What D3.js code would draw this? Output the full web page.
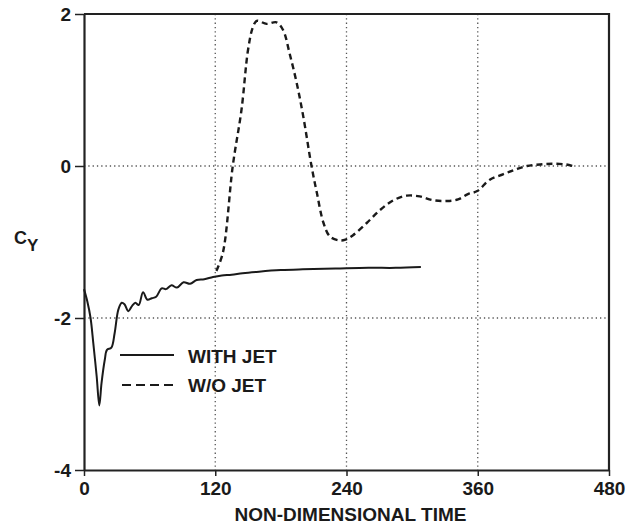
<!DOCTYPE html>
<html>
  <head>
    <meta charset="utf-8">
    <title>Cy vs non-dimensional time</title>
    <script src="https://d3js.org/d3.v7.min.js"></script>
    <style>
body { margin: 0; background: #fff; }
text { font-family: "Liberation Sans", Arial, sans-serif; font-weight: bold; fill: #1a1a1a; }
    </style>
  </head>
  <body>
<script>
// tick values
var xTicks = [0, 120, 240, 360, 480],
    yTicks = [2, 0, -2, -4],
    xGrid = [120, 240, 360],
    yGrid = [0, -2];

// WITH JET (solid)
var jetT  = [0, 3, 6, 8.5, 11.6, 14, 16, 19, 21, 25, 28, 31.4, 34.5, 37, 40.5, 44, 47, 50, 54, 58, 62, 66, 71, 75, 80, 85, 91, 97, 103, 110, 118, 126, 135, 145, 160, 180, 200, 230, 260, 285, 308];
var jetCy = [-1.62, -1.78, -2.0, -2.33, -2.77, -3.15, -2.86, -2.55, -2.42, -2.39, -2.2, -1.89, -1.8, -1.82, -1.91, -1.84, -1.8, -1.83, -1.66, -1.76, -1.74, -1.72, -1.61, -1.62, -1.57, -1.6, -1.53, -1.55, -1.5, -1.49, -1.46, -1.44, -1.43, -1.41, -1.39, -1.37, -1.36, -1.35, -1.34, -1.34, -1.33];

// W/O JET (dashed)
var noJetT  = [121, 127, 136, 144, 150, 154.5, 158, 167, 176, 182, 188, 194.5, 200.5, 208, 213, 219, 225, 234, 239, 246, 258.5, 270.6, 283, 295, 307, 319, 331.6, 342, 351, 359.5, 371, 383, 394, 405, 417, 429, 441, 447];
var noJetCy = [-1.38, -1.14, 0, 0.74, 1.53, 1.83, 1.91, 1.87, 1.89, 1.79, 1.48, 1.09, 0.65, 0, -0.36, -0.75, -0.93, -0.98, -0.97, -0.91, -0.75, -0.58, -0.45, -0.39, -0.4, -0.45, -0.46, -0.44, -0.37, -0.33, -0.18, -0.11, -0.05, 0, 0.02, 0.03, 0.02, 0];

var width = 640,
    height = 529,
    plotL = 84, plotR = 609, plotT = 14, plotB = 470;

var x = d3.scaleLinear().domain([0, 480]).range([plotL, plotR]),
    y = d3.scaleLinear().domain([-4, 2]).range([plotB, plotT]);

var svg = d3.select("body").append("svg")
  .attr("width", width)
  .attr("height", height);

// dotted grid
svg.append("g").selectAll("line").data(xGrid).enter().append("line")
  .attr("x1", function(d) { return x(d); }).attr("x2", function(d) { return x(d); })
  .attr("y1", plotT).attr("y2", plotB)
  .attr("stroke", "#555").attr("stroke-width", 1.3).attr("stroke-dasharray", "1.3,3");
svg.append("g").selectAll("line").data(yGrid).enter().append("line")
  .attr("y1", function(d) { return y(d); }).attr("y2", function(d) { return y(d); })
  .attr("x1", plotL).attr("x2", plotR)
  .attr("stroke", "#555").attr("stroke-width", 1.3).attr("stroke-dasharray", "1.3,3");

// frame top / right
svg.append("path")
  .attr("d", "M" + plotL + "," + plotT + "H" + plotR + "V" + plotB)
  .attr("fill", "none").attr("stroke", "#222").attr("stroke-width", 2.2);

var xAxis = svg.append("g")
  .attr("transform", "translate(0," + plotB + ")")
  .call(d3.axisBottom(x).tickValues(xTicks).tickSize(6).tickSizeOuter(0).tickPadding(6));
var yAxis = svg.append("g")
  .attr("transform", "translate(" + plotL + ",0)")
  .call(d3.axisLeft(y).tickValues(yTicks).tickSize(9).tickSizeOuter(0).tickPadding(4)
    .tickFormat(function(d) { return String(d); }));

[xAxis, yAxis].forEach(function(a) {
  a.select(".domain").attr("stroke", "#222").attr("stroke-width", 2.2);
  a.selectAll(".tick line").attr("stroke", "#222").attr("stroke-width", 1.5);
  a.selectAll(".tick text").style("font-size", "19px").attr("fill", "#1a1a1a");
});

var line = d3.line()
  .x(function(d) { return x(d[0]); })
  .y(function(d) { return y(d[1]); })
  .curve(d3.curveCatmullRom);

svg.append("path")
  .datum(d3.zip(jetT, jetCy))
  .attr("d", line)
  .attr("fill", "none").attr("stroke", "#1a1a1a").attr("stroke-width", 2);

svg.append("path")
  .datum(d3.zip(noJetT, noJetCy))
  .attr("d", line)
  .attr("fill", "none").attr("stroke", "#1a1a1a").attr("stroke-width", 2.4)
  .attr("stroke-dasharray", "6,4");

// legend
svg.append("line").attr("x1", 120).attr("x2", 174).attr("y1", 355).attr("y2", 355)
  .attr("stroke", "#1a1a1a").attr("stroke-width", 2.2);
svg.append("line").attr("x1", 122).attr("x2", 174).attr("y1", 385).attr("y2", 385)
  .attr("stroke", "#1a1a1a").attr("stroke-width", 2.2).attr("stroke-dasharray", "9,5");
svg.append("text").attr("x", 188).attr("y", 363).style("font-size", "19px").text("WITH JET");
svg.append("text").attr("x", 188).attr("y", 392).style("font-size", "19px").text("W/O JET");

// axis titles
svg.append("text").attr("x", (plotL + plotR) / 2 + 4).attr("y", 521)
  .attr("text-anchor", "middle").style("font-size", "19px").text("NON-DIMENSIONAL TIME");
var cy = svg.append("text").attr("x", 14).attr("y", 244).style("font-size", "18px");
cy.append("tspan").text("C");
cy.append("tspan").attr("dy", 7).style("font-size", "17px").text("Y");
</script>
  </body>
</html>
